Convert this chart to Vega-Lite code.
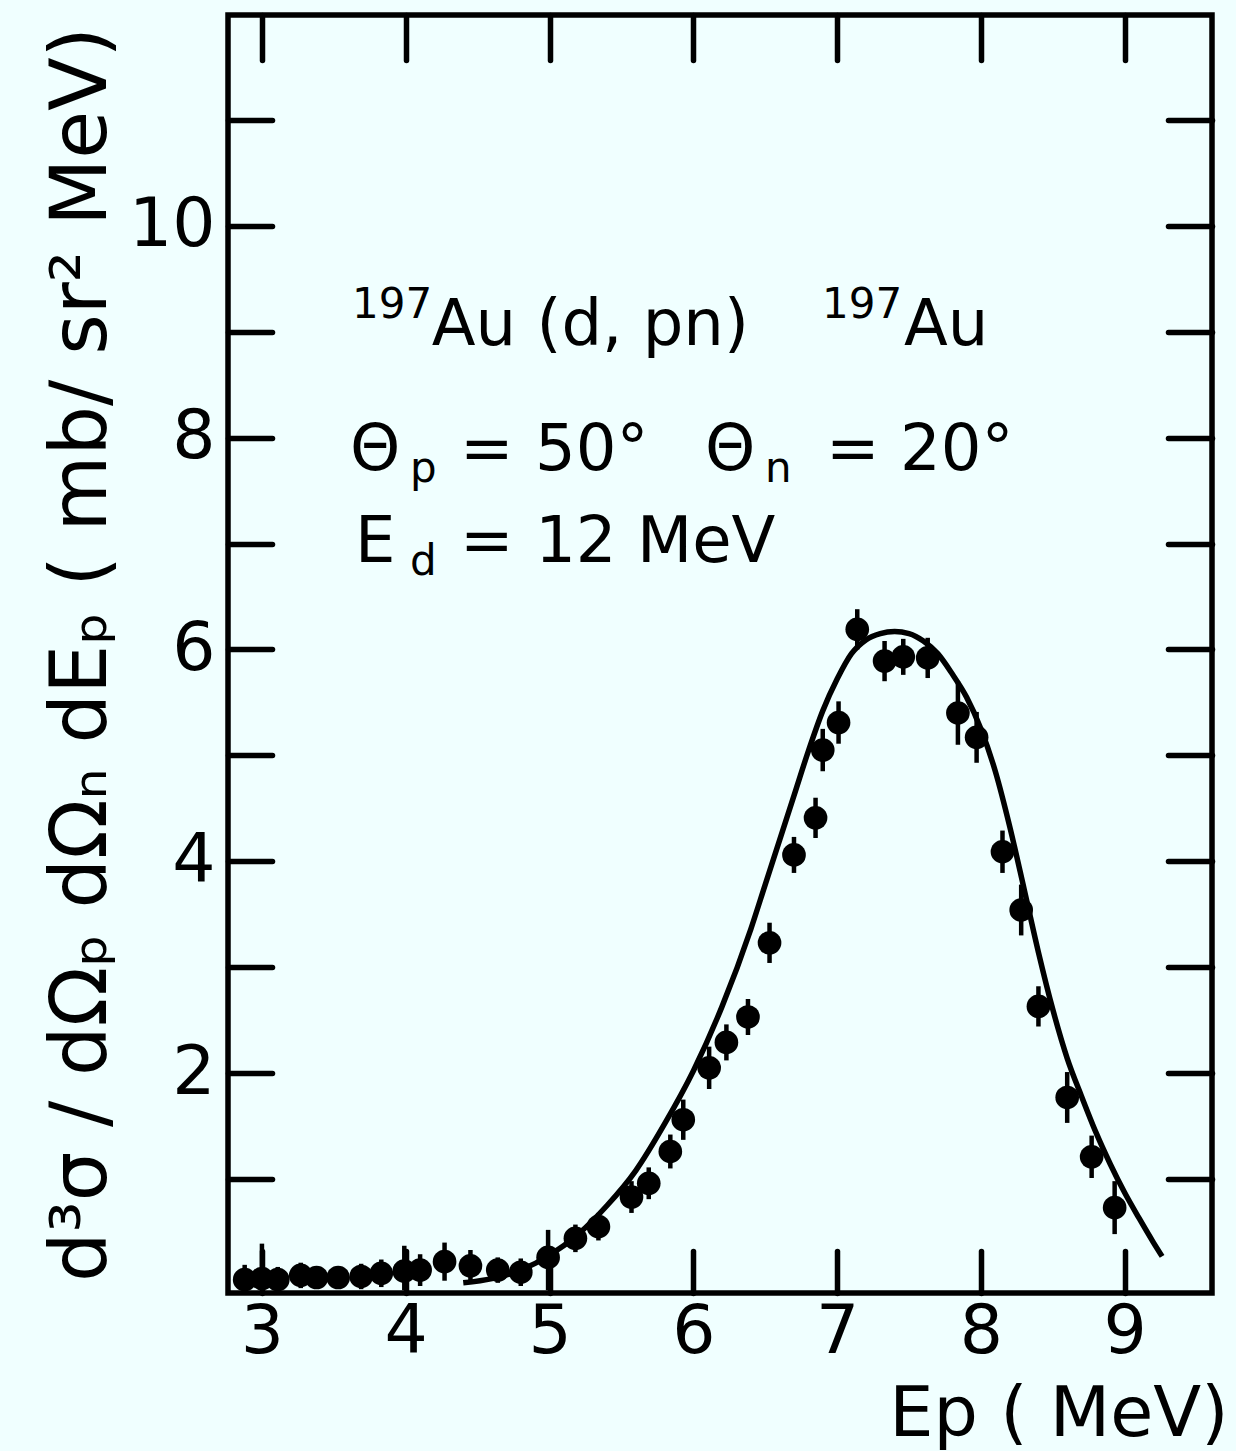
{
  "$schema": "https://vega.github.io/schema/vega-lite/v6.json",
  "width": 984,
  "height": 1278,
  "autosize": "none",
  "padding": {"left": 228, "top": 15, "right": 24, "bottom": 158},
  "background": "#f0ffff",
  "config": {
    "view": {"stroke": "#000000", "strokeWidth": 5.5},
    "font": "DejaVu Sans",
    "axis": {"domain": false, "grid": false, "tickColor": "#000000", "tickWidth": 5.5, "tickCap": "round", "labelColor": "#000000", "titleColor": "#000000", "labelFont": "DejaVu Sans", "titleFont": "DejaVu Sans", "titleFontWeight": "normal", "labelOverlap": false}
  },
  "datasets": {
    "pts": [
      {"x": 2.88, "y": 0.05, "lo": -0.05, "hi": 0.19},
      {"x": 3.00, "y": 0.06, "lo": -0.05, "hi": 0.39},
      {"x": 3.11, "y": 0.05, "lo": -0.05, "hi": 0.17},
      {"x": 3.27, "y": 0.09, "lo": -0.03, "hi": 0.21},
      {"x": 3.38, "y": 0.07, "lo": -0.03, "hi": 0.17},
      {"x": 3.53, "y": 0.07, "lo": -0.03, "hi": 0.17},
      {"x": 3.69, "y": 0.08, "lo": -0.04, "hi": 0.20},
      {"x": 3.83, "y": 0.11, "lo": -0.02, "hi": 0.24},
      {"x": 3.99, "y": 0.13, "lo": -0.05, "hi": 0.37},
      {"x": 4.10, "y": 0.14, "lo": -0.01, "hi": 0.29},
      {"x": 4.27, "y": 0.22, "lo": 0.04, "hi": 0.40},
      {"x": 4.45, "y": 0.18, "lo": 0.03, "hi": 0.33},
      {"x": 4.64, "y": 0.14, "lo": 0.02, "hi": 0.26},
      {"x": 4.80, "y": 0.12, "lo": -0.01, "hi": 0.25},
      {"x": 4.99, "y": 0.26, "lo": -0.05, "hi": 0.52},
      {"x": 5.18, "y": 0.44, "lo": 0.31, "hi": 0.57},
      {"x": 5.34, "y": 0.55, "lo": 0.42, "hi": 0.68},
      {"x": 5.57, "y": 0.83, "lo": 0.68, "hi": 0.98},
      {"x": 5.69, "y": 0.96, "lo": 0.81, "hi": 1.11},
      {"x": 5.84, "y": 1.26, "lo": 1.10, "hi": 1.42},
      {"x": 5.93, "y": 1.56, "lo": 1.37, "hi": 1.75},
      {"x": 6.11, "y": 2.05, "lo": 1.85, "hi": 2.25},
      {"x": 6.23, "y": 2.29, "lo": 2.12, "hi": 2.46},
      {"x": 6.38, "y": 2.53, "lo": 2.36, "hi": 2.70},
      {"x": 6.53, "y": 3.23, "lo": 3.04, "hi": 3.42},
      {"x": 6.70, "y": 4.06, "lo": 3.89, "hi": 4.23},
      {"x": 6.85, "y": 4.41, "lo": 4.22, "hi": 4.60},
      {"x": 6.90, "y": 5.05, "lo": 4.85, "hi": 5.25},
      {"x": 7.01, "y": 5.31, "lo": 5.11, "hi": 5.51},
      {"x": 7.14, "y": 6.19, "lo": 6.00, "hi": 6.38},
      {"x": 7.33, "y": 5.89, "lo": 5.70, "hi": 6.08},
      {"x": 7.46, "y": 5.93, "lo": 5.76, "hi": 6.10},
      {"x": 7.63, "y": 5.92, "lo": 5.73, "hi": 6.11},
      {"x": 7.84, "y": 5.40, "lo": 5.10, "hi": 5.70},
      {"x": 7.97, "y": 5.17, "lo": 4.93, "hi": 5.41},
      {"x": 8.15, "y": 4.09, "lo": 3.89, "hi": 4.29},
      {"x": 8.28, "y": 3.54, "lo": 3.30, "hi": 3.78},
      {"x": 8.40, "y": 2.63, "lo": 2.44, "hi": 2.82},
      {"x": 8.60, "y": 1.77, "lo": 1.53, "hi": 2.01},
      {"x": 8.77, "y": 1.21, "lo": 1.01, "hi": 1.41},
      {"x": 8.93, "y": 0.73, "lo": 0.48, "hi": 0.98}
    ],
    "curve": [
      {"x": 4.40, "y": 0.02},
      {"x": 4.60, "y": 0.06},
      {"x": 4.80, "y": 0.14},
      {"x": 5.00, "y": 0.28},
      {"x": 5.20, "y": 0.48},
      {"x": 5.40, "y": 0.75},
      {"x": 5.60, "y": 1.08},
      {"x": 5.80, "y": 1.52},
      {"x": 6.00, "y": 2.02},
      {"x": 6.20, "y": 2.63},
      {"x": 6.40, "y": 3.36},
      {"x": 6.50, "y": 3.78},
      {"x": 6.60, "y": 4.20},
      {"x": 6.70, "y": 4.62},
      {"x": 6.80, "y": 5.04},
      {"x": 6.90, "y": 5.42},
      {"x": 7.00, "y": 5.72},
      {"x": 7.10, "y": 5.96},
      {"x": 7.20, "y": 6.09},
      {"x": 7.30, "y": 6.15},
      {"x": 7.40, "y": 6.17},
      {"x": 7.50, "y": 6.15},
      {"x": 7.60, "y": 6.08},
      {"x": 7.70, "y": 5.96},
      {"x": 7.80, "y": 5.77},
      {"x": 7.90, "y": 5.55},
      {"x": 8.00, "y": 5.25},
      {"x": 8.10, "y": 4.85},
      {"x": 8.20, "y": 4.33},
      {"x": 8.30, "y": 3.74},
      {"x": 8.40, "y": 3.14},
      {"x": 8.50, "y": 2.60},
      {"x": 8.60, "y": 2.14},
      {"x": 8.70, "y": 1.78},
      {"x": 8.80, "y": 1.44},
      {"x": 8.90, "y": 1.14},
      {"x": 9.00, "y": 0.87},
      {"x": 9.10, "y": 0.63},
      {"x": 9.20, "y": 0.40},
      {"x": 9.26, "y": 0.27}
    ],
    "txt": [
      {"x": 3.626, "y": 9.13, "t": "197", "role": "script"},
      {"x": 4.181, "y": 8.876, "t": "Au (d, pn)", "role": "main"},
      {"x": 6.895, "y": 9.13, "t": "197", "role": "script"},
      {"x": 7.465, "y": 8.876, "t": "Au", "role": "main"},
      {"x": 3.613, "y": 7.696, "t": "Θ", "role": "main"},
      {"x": 4.030, "y": 7.58, "t": "p", "role": "script"},
      {"x": 4.378, "y": 7.696, "t": "=", "role": "main"},
      {"x": 4.899, "y": 7.696, "t": "50°", "role": "main"},
      {"x": 6.081, "y": 7.696, "t": "Θ", "role": "main"},
      {"x": 6.499, "y": 7.58, "t": "n", "role": "script"},
      {"x": 6.923, "y": 7.696, "t": "=", "role": "main"},
      {"x": 7.437, "y": 7.696, "t": "20°", "role": "main"},
      {"x": 3.647, "y": 6.827, "t": "E", "role": "main"},
      {"x": 4.030, "y": 6.70, "t": "d", "role": "script"},
      {"x": 4.378, "y": 6.827, "t": "=", "role": "main"},
      {"x": 4.900, "y": 6.827, "t": "12 MeV", "role": "main"}
    ]
  },
  "resolve": {"axis": {"x": "independent", "y": "independent"}},
  "layer": [
    {
      "data": {"name": "pts"},
      "mark": {"type": "rule", "color": "#000000", "strokeWidth": 4.5},
      "encoding": {
        "x": {"field": "x", "type": "quantitative", "scale": {"domain": [2.764, 9.607], "nice": false, "zero": false},
          "axis": {"orient": "bottom", "values": [3, 4, 5, 6, 7, 8, 9], "tickSize": -42, "labelFontSize": 68, "labelPadding": 47,
            "title": "Ep ( MeV)", "titleFontSize": 70, "titleAlign": "right", "titleBaseline": "alphabetic", "titleX": 1000, "titleY": 142}},
        "y": {"field": "lo", "type": "quantitative", "scale": {"domain": [-0.076, 11.99], "nice": false, "zero": false},
          "axis": {"orient": "left", "values": [1, 2, 3, 4, 5, 6, 7, 8, 9, 10, 11], "labelExpr": "datum.value % 2 === 0 ? datum.label : ''",
            "tickSize": -44, "labelFontSize": 68, "labelPadding": 57,
            "title": "d³σ / dΩₚ dΩₙ dEₚ  ( mb/ sr² MeV)", "titleFontSize": 78, "titleAngle": -90, "titleAlign": "center", "titleBaseline": "alphabetic",
            "titleX": -123, "titleY": 639, "titleLimit": 3000}},
        "y2": {"field": "hi"}
      }
    },
    {
      "data": {"name": "pts"},
      "mark": {"type": "point", "filled": true, "color": "#000000", "size": 560, "opacity": 1},
      "encoding": {
        "x": {"field": "x", "type": "quantitative", "scale": {"domain": [2.764, 9.607], "nice": false, "zero": false}, "axis": null},
        "y": {"field": "y", "type": "quantitative", "scale": {"domain": [-0.076, 11.99], "nice": false, "zero": false}, "axis": null}
      }
    },
    {
      "data": {"name": "curve"},
      "mark": {"type": "line", "color": "#000000", "strokeWidth": 5.5, "interpolate": "monotone"},
      "encoding": {
        "x": {"field": "x", "type": "quantitative", "scale": {"domain": [2.764, 9.607], "nice": false, "zero": false},
          "axis": {"orient": "top", "values": [3, 4, 5, 6, 7, 8, 9], "labels": false, "tickSize": -45, "title": null}},
        "y": {"field": "y", "type": "quantitative", "scale": {"domain": [-0.076, 11.99], "nice": false, "zero": false},
          "axis": {"orient": "right", "values": [1, 2, 3, 4, 5, 6, 7, 8, 9, 10, 11], "labels": false, "tickSize": -44, "title": null}}
      }
    },
    {
      "data": {"name": "txt"},
      "transform": [{"filter": "datum.role === 'main'"}],
      "mark": {"type": "text", "align": "left", "baseline": "alphabetic", "fontSize": 64, "color": "#000000", "font": "DejaVu Sans"},
      "encoding": {
        "x": {"field": "x", "type": "quantitative", "scale": {"domain": [2.764, 9.607], "nice": false, "zero": false}, "axis": null},
        "y": {"field": "y", "type": "quantitative", "scale": {"domain": [-0.076, 11.99], "nice": false, "zero": false}, "axis": null},
        "text": {"field": "t"}
      }
    },
    {
      "data": {"name": "txt"},
      "transform": [{"filter": "datum.role === 'script'"}],
      "mark": {"type": "text", "align": "left", "baseline": "alphabetic", "fontSize": 42, "color": "#000000", "font": "DejaVu Sans"},
      "encoding": {
        "x": {"field": "x", "type": "quantitative", "scale": {"domain": [2.764, 9.607], "nice": false, "zero": false}, "axis": null},
        "y": {"field": "y", "type": "quantitative", "scale": {"domain": [-0.076, 11.99], "nice": false, "zero": false}, "axis": null},
        "text": {"field": "t"}
      }
    }
  ]
}
